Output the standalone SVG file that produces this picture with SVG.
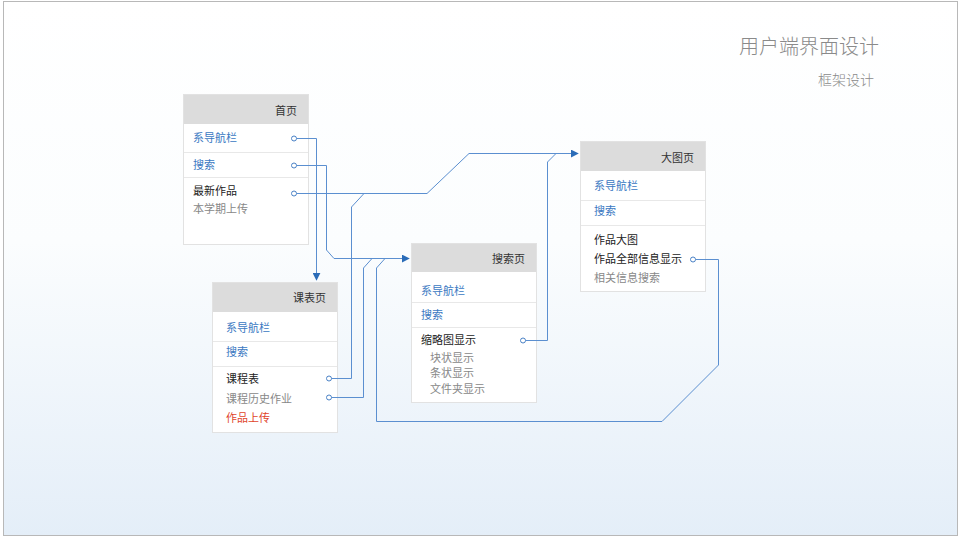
<svg xmlns="http://www.w3.org/2000/svg" width="960" height="538" viewBox="0 0 960 538">
<defs>
<linearGradient id="bg" x1="0" y1="0" x2="0" y2="1">
<stop offset="0" stop-color="#ffffff"/>
<stop offset="0.45" stop-color="#fbfdfe"/>
<stop offset="1" stop-color="#e4eef8"/>
</linearGradient>
<marker id="arr" viewBox="0 0 10 10" refX="9" refY="5" markerWidth="8" markerHeight="8" markerUnits="userSpaceOnUse" orient="auto">
<path d="M0,0 L10,5 L0,10 z" fill="#2a6cb8"/>
</marker>
<style>
text{font-family:"Noto Sans CJK SC","Noto Sans",sans-serif;font-size:11px}
.box{fill:#ffffff;stroke:#e2e2e2;stroke-width:1}
.hdr{fill:#dcdcdc}
.div{stroke:#e8e8e8;stroke-width:1}
.ht{fill:#333333;text-anchor:end}
.lk{fill:#3a78c2}
.bk{fill:#222222}
.gr{fill:#888888}
.rd{fill:#e0452b}
.ln{fill:none;stroke:#5b8fd0;stroke-width:1}
.dot{fill:#ffffff;stroke:#4a82c6;stroke-width:1}
</style>
</defs>
<rect x="0" y="0" width="960" height="538" fill="#ffffff"/>
<rect x="3.5" y="1.5" width="954" height="534" fill="url(#bg)" stroke="#b8b8b8" stroke-width="1"/>
<text x="879" y="54" style="font-size:20px;fill:#8a8a8a;text-anchor:end;font-weight:300">用户端界面设计</text>
<text x="874" y="85" style="font-size:14px;fill:#8a8a8a;text-anchor:end;font-weight:300">框架设计</text>

<g id="node-home">
<rect class="box" x="183.5" y="94.5" width="125" height="150"/>
<rect class="hdr" x="184" y="95" width="124" height="29"/>
<line class="div" x1="184" y1="152.5" x2="308" y2="152.5"/>
<line class="div" x1="184" y1="177.5" x2="308" y2="177.5"/>
<text class="ht" x="297" y="115">首页</text>
<text class="lk" x="193" y="142">系导航栏</text>
<text class="lk" x="193" y="169">搜索</text>
<text class="bk" x="193" y="195">最新作品</text>
<text class="gr" x="193" y="213">本学期上传</text>
<circle class="dot" cx="294" cy="138.5" r="2.5"/>
<circle class="dot" cx="294" cy="165.5" r="2.5"/>
<circle class="dot" cx="294" cy="193.5" r="2.5"/>
</g>

<g id="node-schedule">
<rect class="box" x="212.5" y="282.5" width="125" height="150"/>
<rect class="hdr" x="213" y="283" width="124" height="29"/>
<line class="div" x1="213" y1="341.5" x2="337" y2="341.5"/>
<line class="div" x1="213" y1="366.5" x2="337" y2="366.5"/>
<text class="ht" x="326" y="302">课表页</text>
<text class="lk" x="226" y="332">系导航栏</text>
<text class="lk" x="226" y="356">搜索</text>
<text class="bk" x="226" y="383">课程表</text>
<text class="gr" x="226" y="403">课程历史作业</text>
<text class="rd" x="226" y="422">作品上传</text>
<circle class="dot" cx="329" cy="378.5" r="2.5"/>
<circle class="dot" cx="329" cy="397.5" r="2.5"/>
</g>

<g id="node-search">
<rect class="box" x="411.5" y="243.5" width="125" height="159"/>
<rect class="hdr" x="412" y="244" width="124" height="28"/>
<line class="div" x1="412" y1="302.5" x2="536" y2="302.5"/>
<line class="div" x1="412" y1="327.5" x2="536" y2="327.5"/>
<text class="ht" x="525" y="263">搜索页</text>
<text class="lk" x="421" y="295">系导航栏</text>
<text class="lk" x="421" y="319">搜索</text>
<text class="bk" x="421" y="344">缩略图显示</text>
<text class="gr" x="430" y="362">块状显示</text>
<text class="gr" x="430" y="377">条状显示</text>
<text class="gr" x="430" y="393">文件夹显示</text>
<circle class="dot" cx="523" cy="340.5" r="2.5"/>
</g>

<g id="node-bigpic">
<rect class="box" x="580.5" y="141.5" width="125" height="150"/>
<rect class="hdr" x="581" y="142" width="124" height="29"/>
<line class="div" x1="581" y1="200.5" x2="705" y2="200.5"/>
<line class="div" x1="581" y1="225.5" x2="705" y2="225.5"/>
<text class="ht" x="694" y="162">大图页</text>
<text class="lk" x="594" y="190">系导航栏</text>
<text class="lk" x="594" y="215">搜索</text>
<text class="bk" x="594" y="244">作品大图</text>
<text class="bk" x="594" y="263">作品全部信息显示</text>
<text class="gr" x="594" y="282">相关信息搜索</text>
<circle class="dot" cx="693" cy="259.5" r="2.5"/>
</g>

<g id="connectors">
<path class="ln" d="M296.5,138.5 H316.5 V280" marker-end="url(#arr)"/>
<path class="ln" d="M296.5,165.5 H326.5 V250 L334,258.5 H409" marker-end="url(#arr)"/>
<path class="ln" d="M296.5,193.5 H427 L469,153.5 H578" marker-end="url(#arr)"/>
<path class="ln" d="M331.5,378.5 H351.5 V207 L364,193.5"/>
<path class="ln" d="M331.5,397.5 H363.5 V268 L372,258.5"/>
<path class="ln" d="M695.5,259.5 H718.5 V365 L662,421.5 H376.5 V268 L385,258.5"/>
<path class="ln" d="M525.5,340.5 H547.5 V162 L556,153.5"/>
</g>
</svg>
